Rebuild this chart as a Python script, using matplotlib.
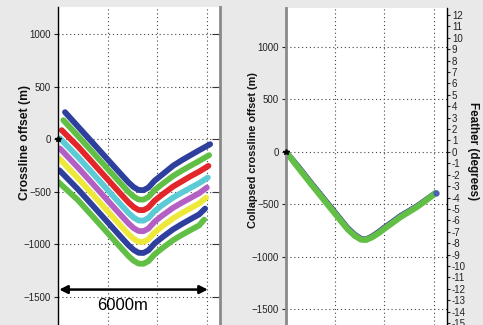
import matplotlib
matplotlib.use("Agg")
import matplotlib.pyplot as plt

# ---------------- data ----------------
streamer_colors = ["#2e3f9e", "#62bf45", "#e2262a", "#5ccbd6",
                   "#b45fc4", "#eee83a", "#2e3f9e", "#62bf45"]

grid_x = [800, 1300, 1800, 2300, 2600, 2850, 3050, 3250, 3450, 3650, 3900, 4200, 4650, 5000, 5330, 5700]

s1_x = [283] + grid_x + [6141]
s1_y = [257, 122, -8, -139, -270, -348, -412, -455, -483, -485, -460, -395, -338, -252, -200, -155, -105, -48]
s2_x = [214] + grid_x + [6101]
s2_y = [181, 32, -98, -229, -360, -438, -502, -545, -573, -575, -550, -485, -428, -349, -299, -255, -207, -152]
s3_x = [148] + grid_x + [6073]
s3_y = [86, -68, -198, -329, -460, -538, -602, -645, -673, -675, -650, -585, -528, -450, -401, -355, -308, -254]
s4_x = [81] + grid_x + [6048]
s4_y = [7, -168, -298, -429, -560, -638, -702, -745, -773, -775, -750, -685, -628, -555, -508, -465, -418, -365]
s5_x = [81] + grid_x + [6008]
s5_y = [-89, -268, -398, -529, -660, -738, -802, -845, -873, -875, -850, -785, -728, -652, -604, -561, -514, -460]
s6_x = [53] + grid_x + [5980]
s6_y = [-184, -370, -500, -631, -762, -840, -904, -947, -975, -977, -952, -887, -830, -752, -702, -659, -611, -556]
s7_x = [53] + grid_x + [5939]
s7_y = [-295, -475, -605, -736, -867, -945, -1009, -1052, -1080, -1082, -1057, -992, -935, -857, -807, -763, -715, -660]
s8_x = [12] + grid_x + [5899]
s8_y = [-407, -578, -708, -839, -970, -1048, -1112, -1155, -1183, -1185, -1160, -1095, -1038, -960, -910, -867, -820, -765]

coll_x = [0, 500, 1000, 1500, 2000, 2500, 2800, 3050, 3250, 3500, 3750, 3976, 4300, 4653, 5000, 5327, 5700, 6073]
coll_y = [0, -150, -300, -445, -590, -735, -800, -835, -838, -812, -775, -735, -680, -620, -570, -523, -460, -393]
coll_dark_y = [0, -138, -288, -432, -577, -722, -788, -826, -832, -802, -763, -722, -668, -608, -560, -514, -452, -390]

y_ticks = [-1500, -1000, -500, 0, 500, 1000]
x_grid = [2000, 4000, 6000]
feather_ticks = list(range(-15, 13))
arrow_span = (50, 6050)
arrow_level = -1430
arrow_label = "6000m"

# ---------------- figure ----------------
W, H = 483, 325
BG = "#e9e9e9"
fig = plt.figure(figsize=(W / 100, H / 100), dpi=100, facecolor=BG)

tick_font = ["Liberation Sans Narrow", "Liberation Sans", "DejaVu Sans"]
lab_font = ["Liberation Sans", "DejaVu Sans"]


def style_axes(ax, left_color):
    ax.set_facecolor("white")
    ax.spines["top"].set_visible(False)
    ax.spines["bottom"].set_visible(False)
    ax.spines["right"].set_visible(False)
    ax.spines["left"].set_color(left_color)
    ax.set_xticks(x_grid)
    ax.set_yticks(y_ticks)
    ax.tick_params(axis="x", length=0, labelbottom=False)
    ax.tick_params(axis="y", direction="out", length=3, width=0.8, pad=2,
                   labelsize=7, colors="#222222")
    for lab in ax.get_yticklabels():
        lab.set_family(tick_font)
    ax.grid(True, linestyle=(0, (1, 2.5)), color="#444444", linewidth=0.8)
    ax.set_axisbelow(True)


# ---- left panel ----
ax1 = fig.add_axes([58 / W, 0, 162 / W, 318 / H])
ax1.set_xlim(0, 6540)
ax1.set_ylim(-1767, 1257)
style_axes(ax1, "black")
ax1.spines["left"].set_linewidth(1.0)
sec = ax1.secondary_yaxis("right")
sec.set_yticks(y_ticks)
sec.tick_params(direction="in", length=6, width=0.8, labelright=False, colors="#333333")
sec.spines["right"].set_color("#8a8a8a")
sec.spines["right"].set_linewidth(2)

streamers = [(s1_x, s1_y), (s2_x, s2_y), (s3_x, s3_y), (s4_x, s4_y),
             (s5_x, s5_y), (s6_x, s6_y), (s7_x, s7_y), (s8_x, s8_y)]
for (sx, sy), c in zip(streamers, streamer_colors):
    ax1.plot(sx, sy, color=c, lw=4.2, solid_capstyle="round", solid_joinstyle="round")
ax1.plot([0], [0], marker="*", color="black", ms=4, clip_on=False, zorder=5)

ax1.annotate("", xy=(arrow_span[1], arrow_level), xytext=(arrow_span[0], arrow_level),
             arrowprops=dict(arrowstyle="<|-|>", color="black", lw=1.8,
                             mutation_scale=12, shrinkA=0, shrinkB=0))
ax1.text(2590, -1585, arrow_label, fontsize=12, family=lab_font,
         ha="center", va="center", color="black")

fig.text(25 / W, 1 - 142 / H, "Crossline offset (m)", rotation=90, fontsize=8.8,
         fontweight="bold", family=lab_font, ha="center", va="center", color="#111111")

# ---- right panel ----
ax2 = fig.add_axes([286 / W, 0, 161 / W, 317 / H])
ax2.set_xlim(0, 6540)
ax2.set_ylim(-1648, 1371)
style_axes(ax2, "#8a8a8a")
ax2.spines["left"].set_linewidth(2)
ax2.plot(coll_x, coll_dark_y, color="#2e3f9e", lw=4, solid_capstyle="round", solid_joinstyle="round")
ax2.plot(coll_x, coll_dark_y, color="#8a4fb0", lw=3, solid_capstyle="round", solid_joinstyle="round")
ax2.plot(coll_x, coll_y, color="#62bf45", lw=4.4, solid_capstyle="round", solid_joinstyle="round")
ax2.plot([coll_x[-1]], [coll_y[-1]], "o", color="#4a5fb5", ms=3.5, zorder=4)
ax2.plot([0], [0], marker="*", color="black", ms=4, clip_on=False, zorder=5)

fig.text(253 / W, 1 - 150 / H, "Collapsed crossline offset (m)", rotation=90, fontsize=7.8,
         fontweight="bold", family=lab_font, ha="center", va="center", color="#111111")

ax3 = ax2.twinx()
ax3.set_ylim(-15.16, 12.6)
ax3.set_yticks(feather_ticks)
ax3.set_yticklabels([str(t) for t in feather_ticks])
for s in ("top", "bottom", "left"):
    ax3.spines[s].set_visible(False)
ax3.spines["right"].set_color("black")
ax3.spines["right"].set_linewidth(1.0)
ax3.tick_params(axis="y", direction="out", length=2.5, width=0.8, pad=1,
                labelsize=7, colors="#222222")
for lab in ax3.get_yticklabels():
    lab.set_family(tick_font)

fig.text(473 / W, 1 - 151 / H, "Feather (degrees)", rotation=-90, fontsize=8.4,
         fontweight="bold", family=lab_font, ha="center", va="center", color="#111111")

fig.savefig("out.png", dpi=100, facecolor=BG)
